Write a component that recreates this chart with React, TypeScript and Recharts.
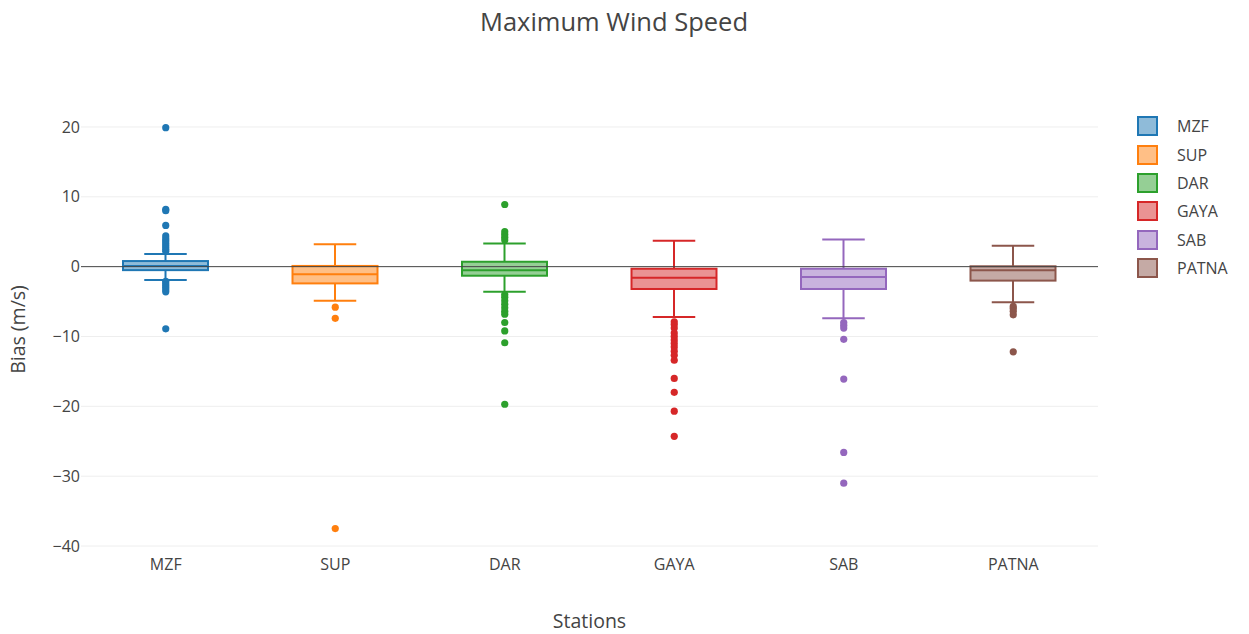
import React from "react";
import {
  ComposedChart,
  Bar,
  Scatter,
  XAxis,
  YAxis,
  ReferenceLine,
} from "recharts";

const stations = ["MZF", "SUP", "DAR", "GAYA", "SAB", "PATNA"];
const whiskerLow = [-1.9, -4.9, -3.6, -7.2, -7.4, -5.1];
const q1 = [-0.5, -2.4, -1.3, -3.2, -3.2, -2.0];
const median = [0.1, -1.1, -0.5, -1.6, -1.5, -0.5];
const q3 = [0.8, 0.1, 0.7, -0.3, -0.3, 0.05];
const whiskerHigh = [1.8, 3.2, 3.3, 3.7, 3.9, 3.0];

const mzfOutliers = [19.9, 8.2, 8.0, 5.9, 4.4, 4.0, 3.7, 3.4, 3.1, 2.8, 2.5, 2.2, -2.1, -2.4, -2.7, -3.0, -3.3, -3.6, -8.9];
const supOutliers = [-5.8, -7.4, -37.5];
const darOutliers = [8.9, 5.0, 4.6, 4.2, 3.8, -4.0, -4.4, -4.9, -5.4, -5.9, -6.4, -6.8, -8.0, -9.2, -10.9, -19.7];
const gayaOutliers = [-7.9, -8.3, -8.8, -9.5, -10.0, -10.5, -11.0, -11.5, -12.1, -12.7, -13.4, -16.0, -18.0, -20.7, -24.3];
const sabOutliers = [-8.0, -8.4, -8.8, -10.4, -16.1, -26.6, -31.0];
const patnaOutliers = [-5.7, -6.0, -6.4, -6.9, -12.2];
const outliers = [mzfOutliers, supOutliers, darOutliers, gayaOutliers, sabOutliers, patnaOutliers];

const yTicks = [-40, -30, -20, -10, 0, 10, 20];

const colors = ["#1f77b4", "#ff7f0e", "#2ca02c", "#d62728", "#9467bd", "#8c564b"];
const fills = [
  "rgba(31,119,180,0.5)",
  "rgba(255,127,14,0.5)",
  "rgba(44,160,44,0.5)",
  "rgba(214,39,40,0.5)",
  "rgba(148,103,189,0.5)",
  "rgba(140,86,75,0.5)",
];

const boxData = stations.map((name, i) => ({
  name,
  lo: whiskerLow[i],
  q1: q1[i],
  med: median[i],
  q3: q3[i],
  hi: whiskerHigh[i],
}));

const FONT = '"Open Sans", "DejaVu Sans", sans-serif';

// the bar covers the whisker range; quartiles are placed on the same scale
const BoxShape = (props: any) => {
  const { x, y, width, height, payload, index } = props;
  const top = Math.min(y, y + height);
  const bottom = Math.max(y, y + height);
  const { lo, hi } = payload;
  const py = (v: number) => top + ((hi - v) / (hi - lo)) * (bottom - top);
  const c = colors[index];
  const cx = x + width / 2;
  const cap = width / 4;
  return (
    <g>
      <line x1={cx} x2={cx} y1={py(hi)} y2={py(payload.q3)} stroke={c} strokeWidth={2} />
      <line x1={cx} x2={cx} y1={py(payload.q1)} y2={py(lo)} stroke={c} strokeWidth={2} />
      <line x1={cx - cap} x2={cx + cap} y1={py(hi)} y2={py(hi)} stroke={c} strokeWidth={2} />
      <line x1={cx - cap} x2={cx + cap} y1={py(lo)} y2={py(lo)} stroke={c} strokeWidth={2} />
      <rect
        x={x}
        y={py(payload.q3)}
        width={width}
        height={py(payload.q1) - py(payload.q3)}
        fill={fills[index]}
        stroke={c}
        strokeWidth={2}
      />
      <line x1={x} x2={x + width} y1={py(payload.med)} y2={py(payload.med)} stroke={c} strokeWidth={2} />
    </g>
  );
};

const fmt = (v: number) => (v < 0 ? `\u2212${Math.abs(v)}` : String(v));

export default function App() {
  return (
    <div
      style={{
        position: "absolute",
        left: 0,
        top: 0,
        width: 1249,
        height: 634,
        background: "#fff",
        fontFamily: FONT,
      }}
    >
      <div
        style={{
          position: "absolute",
          left: 0,
          top: 4,
          width: 1228,
          textAlign: "center",
          fontSize: 25.5,
          color: "#444",
        }}
      >
        Maximum Wind Speed
      </div>

      <ComposedChart
        width={1249}
        height={634}
        data={boxData}
        margin={{ top: 106, right: 151, bottom: 6, left: 13 }}
      >
        <XAxis
          dataKey="name"
          allowDuplicatedCategory={false}
          axisLine={false}
          tickLine={false}
          tickSize={0}
          tickMargin={6}
          height={75}
          tick={{ fill: "#444", fontSize: 16, fontFamily: FONT }}
          label={{
            value: "Stations",
            position: "insideBottom",
            offset: 0,
            fill: "#444",
            fontSize: 19.5,
            fontFamily: FONT,
          }}
        />
        <YAxis
          type="number"
          domain={[-41, 23]}
          ticks={yTicks}
          tickFormatter={fmt}
          axisLine={false}
          tickLine={false}
          tickSize={0}
          tickMargin={1}
          width={68}
          tick={{ fill: "#444", fontSize: 16, fontFamily: FONT }}
          label={{
            value: "Bias (m/s)",
            angle: -90,
            position: "insideLeft",
            offset: 5,
            fill: "#444",
            fontSize: 19.5,
            fontFamily: FONT,
            style: { textAnchor: "middle" },
          }}
        />
        {yTicks.map((t) => (
          <ReferenceLine key={t} y={t} stroke={t === 0 ? "#444" : "#eee"} strokeWidth={1} />
        ))}
        <Bar dataKey={(d: any) => [d.lo, d.hi]} barSize={85} shape={BoxShape} isAnimationActive={false} />
        {outliers.map((arr, i) => (
          <Scatter
            key={stations[i]}
            data={arr.map((v) => ({ name: stations[i], v }))}
            dataKey="v"
            fill={colors[i]}
            isAnimationActive={false}
            shape={(p: any) => <circle cx={p.cx} cy={p.cy} r={3.6} fill={colors[i]} />}
          />
        ))}
      </ComposedChart>

      <div style={{ position: "absolute", left: 1137, top: 112 }}>
        {stations.map((s, i) => (
          <div key={s} style={{ display: "flex", alignItems: "center", height: 28.4 }}>
            <div
              style={{
                width: 17,
                height: 16,
                border: `2px solid ${colors[i]}`,
                background: fills[i],
              }}
            />
            <span style={{ marginLeft: 19, fontSize: 16, color: "#444" }}>{s}</span>
          </div>
        ))}
      </div>
    </div>
  );
}
